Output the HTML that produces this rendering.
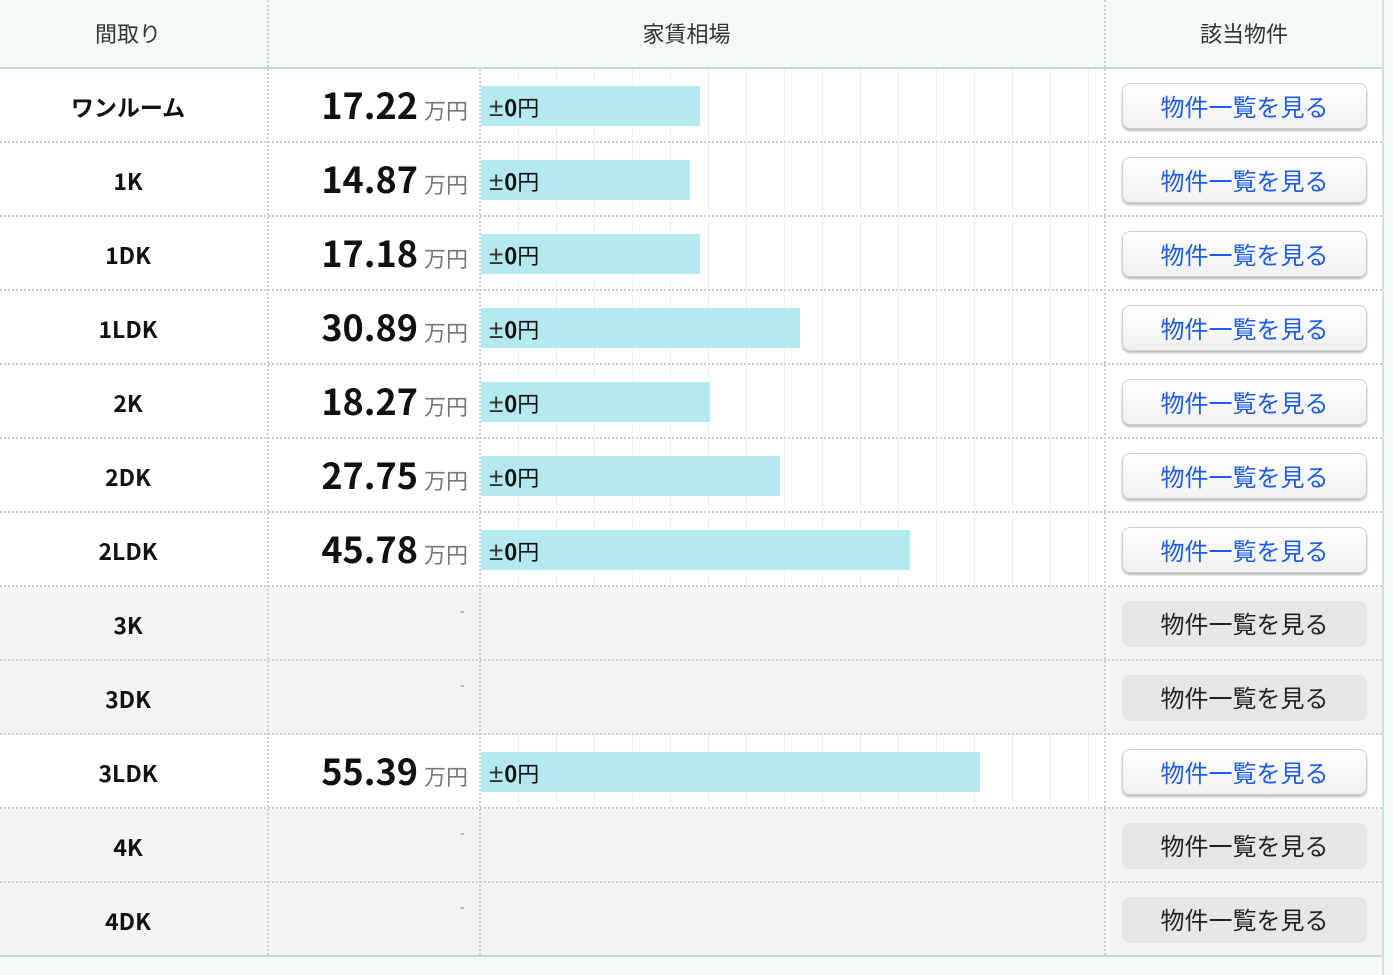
<!DOCTYPE html>
<html><head><meta charset="utf-8"><style>
*{margin:0;padding:0;box-sizing:border-box}
body{width:1393px;height:975px;overflow:hidden;background:#f5f8f9;font-family:"Noto Sans CJK JP","Liberation Sans",sans-serif;position:relative}
.tbl{position:absolute;left:0;top:0;width:1384px;height:975px;background:#fff;border-right:2px solid #d3dcdf}
.hd{position:absolute;left:0;top:0;width:1382px;height:69px;background:#f5f8f9;border-bottom:2px solid #ccd6d9}
.hd div{position:absolute;top:17px;font-size:22px;color:#333;text-align:center}
.vl{position:absolute;top:0;bottom:0;border-left:2px dotted #c7d0d3}
.row{position:absolute;left:0;width:1382px;height:74px;border-bottom:2px dotted #c7d0d3}
.row.g{background:#f4f4f4}
.lab{position:absolute;left:0;width:256px;top:20px;text-align:center;font-weight:bold;font-size:23px;color:#111;line-height:34px}
.val{position:absolute;right:914px;top:8px;font-size:36px;font-weight:bold;color:#111;white-space:nowrap;line-height:54px}
.val span{font-size:22px;font-weight:normal;color:#777;margin-left:6px}
.dash{position:absolute;left:460px;top:14px;color:#777;font-size:14px}
.bar{position:absolute;left:481px;top:17px;height:40px;background:#b5e9f0}
.bar b{position:absolute;left:8px;top:4px;font-size:22px;font-weight:bold;color:#111;line-height:34px}
.bar b em{font-family:"Liberation Sans",sans-serif;font-style:normal;font-size:26px;font-weight:normal;color:#333;margin-right:1px}
.bar b i{font-style:normal;font-weight:normal}
.btn{position:absolute;left:1122px;top:14px;width:245px;height:46px;border-radius:8px;text-align:center;line-height:44px;font-size:24px}
.btn.a{background:linear-gradient(#fff,#f1f1f1);border:1px solid #cfcfcf;box-shadow:0 2px 2px #bbb;color:#1c5ce8}
.btn.d{background:#e6e6e6;color:#222}
.grid{position:absolute;left:481px;top:69px;width:622px;height:887px;background:repeating-linear-gradient(90deg,transparent 0 37px,#f0f0f0 37px 38px)}
.foot{position:absolute;left:0;top:955px;width:1382px;height:20px;background:#f5f8f9;border-top:2px solid #ccd6d9}
</style></head><body>
<div class="tbl">
<div class="grid"></div>
<div class="hd"><div style="left:0;width:256px">間取り</div><div style="left:268px;width:837px">家賃相場</div><div style="left:1105px;width:278px">該当物件</div></div>

<div class="row" style="top:69px"><div class="lab">ワンルーム</div><div class="val">17.22<span>万円</span></div><div class="bar" style="width:219px"><b><em>±</em>0<i>円</i></b></div><div class="btn a">物件一覧を見る</div></div>
<div class="row" style="top:143px"><div class="lab">1K</div><div class="val">14.87<span>万円</span></div><div class="bar" style="width:209px"><b><em>±</em>0<i>円</i></b></div><div class="btn a">物件一覧を見る</div></div>
<div class="row" style="top:217px"><div class="lab">1DK</div><div class="val">17.18<span>万円</span></div><div class="bar" style="width:219px"><b><em>±</em>0<i>円</i></b></div><div class="btn a">物件一覧を見る</div></div>
<div class="row" style="top:291px"><div class="lab">1LDK</div><div class="val">30.89<span>万円</span></div><div class="bar" style="width:319px"><b><em>±</em>0<i>円</i></b></div><div class="btn a">物件一覧を見る</div></div>
<div class="row" style="top:365px"><div class="lab">2K</div><div class="val">18.27<span>万円</span></div><div class="bar" style="width:229px"><b><em>±</em>0<i>円</i></b></div><div class="btn a">物件一覧を見る</div></div>
<div class="row" style="top:439px"><div class="lab">2DK</div><div class="val">27.75<span>万円</span></div><div class="bar" style="width:299px"><b><em>±</em>0<i>円</i></b></div><div class="btn a">物件一覧を見る</div></div>
<div class="row" style="top:513px"><div class="lab">2LDK</div><div class="val">45.78<span>万円</span></div><div class="bar" style="width:429px"><b><em>±</em>0<i>円</i></b></div><div class="btn a">物件一覧を見る</div></div>
<div class="row g" style="top:587px"><div class="lab">3K</div><div class="dash">-</div><div class="btn d">物件一覧を見る</div></div>
<div class="row g" style="top:661px"><div class="lab">3DK</div><div class="dash">-</div><div class="btn d">物件一覧を見る</div></div>
<div class="row" style="top:735px"><div class="lab">3LDK</div><div class="val">55.39<span>万円</span></div><div class="bar" style="width:499px"><b><em>±</em>0<i>円</i></b></div><div class="btn a">物件一覧を見る</div></div>
<div class="row g" style="top:809px"><div class="lab">4K</div><div class="dash">-</div><div class="btn d">物件一覧を見る</div></div>
<div class="row g" style="top:883px;border-bottom:none"><div class="lab">4DK</div><div class="dash">-</div><div class="btn d">物件一覧を見る</div></div>

<div class="vl" style="left:267px"></div>
<div class="vl" style="left:479px;top:69px;bottom:20px"></div>
<div class="vl" style="left:1104px"></div>
<div class="foot"></div>
</div>
</body></html>
